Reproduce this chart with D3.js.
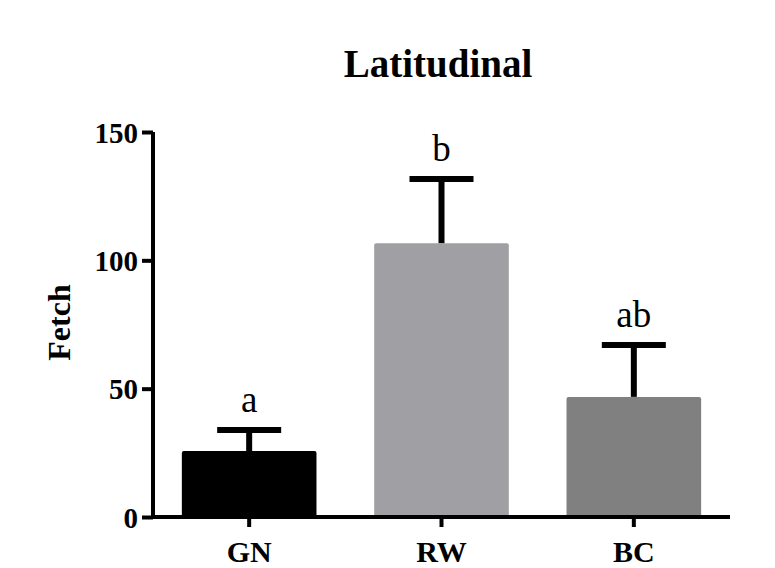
<!DOCTYPE html>
<html>
<head>
<meta charset="utf-8">
<script src="https://cdn.jsdelivr.net/npm/d3@7"></script>
<style>
  body { margin: 0; background: #fff; }
  text { font-family: "Palatino Linotype", "Book Antiqua", Palatino, "Liberation Serif", serif; fill: #000; }
</style>
</head>
<body>
<div id="chart"></div>
<script>
// data
let sites = ["GN", "RW", "BC"];
let means = [25.7, 106.7, 46.8];
let errors = [8.2, 25.0, 20.2];
let letters = ["a", "b", "ab"];
let barColors = ["#000000", "#a0a0a4", "#808080"];
let yTicks = [0, 50, 100, 150];

let w = 775, h = 568;
let m = {top: 132, right: 45, bottom: 51, left: 153};
let font = "\"Palatino Linotype\", \"Book Antiqua\", Palatino, \"Liberation Serif\", serif";

let svg = d3.select("#chart")
    .append("svg")
    .attr("width", w)
    .attr("height", h);

let x = d3.scaleBand()
    .domain(sites)
    .range([m.left, w - m.right])
    .paddingInner(0.3)
    .paddingOuter(0.15);

let y = d3.scaleLinear()
    .domain([0, 150])
    .range([h - m.bottom, m.top]);

// bars
svg.selectAll("rect.bar")
    .data(sites)
    .enter()
    .append("rect")
    .attr("class", "bar")
    .attr("x", (d) => x(d))
    .attr("y", (d, i) => y(means[i]))
    .attr("width", x.bandwidth())
    .attr("height", (d, i) => y(0) - y(means[i]))
    .attr("rx", 2)
    .style("fill", (d, i) => barColors[i]);

// error bars (upper only)
let capW = 64;
let eb = svg.selectAll("g.err")
    .data(sites)
    .enter()
    .append("g")
    .attr("class", "err");

eb.append("line")
    .attr("x1", (d) => x(d) + x.bandwidth() / 2)
    .attr("x2", (d) => x(d) + x.bandwidth() / 2)
    .attr("y1", (d, i) => y(means[i]))
    .attr("y2", (d, i) => y(means[i] + errors[i]))
    .style("stroke", "#000")
    .style("stroke-width", 6);

eb.append("line")
    .attr("x1", (d) => x(d) + x.bandwidth() / 2 - capW / 2)
    .attr("x2", (d) => x(d) + x.bandwidth() / 2 + capW / 2)
    .attr("y1", (d, i) => y(means[i] + errors[i]))
    .attr("y2", (d, i) => y(means[i] + errors[i]))
    .style("stroke", "#000")
    .style("stroke-width", 6);

// significance letters
svg.selectAll("text.letter")
    .data(letters)
    .enter()
    .append("text")
    .attr("class", "letter")
    .attr("x", (d, i) => x(sites[i]) + x.bandwidth() / 2)
    .attr("y", (d, i) => y(means[i] + errors[i]) - 18)
    .attr("text-anchor", "middle")
    .style("font-size", "37px")
    .text((d) => d);

// y axis
let yAxis = svg.append("g")
    .attr("transform", "translate(" + m.left + ",0)")
    .call(d3.axisLeft(y).tickValues(yTicks).tickSize(11).tickPadding(4));

// x axis
let xAxis = svg.append("g")
    .attr("transform", "translate(0," + y(0) + ")")
    .call(d3.axisBottom(x).tickSize(10).tickPadding(13));

[yAxis, xAxis].forEach((a) => {
    a.select(".domain").style("stroke", "#000").style("stroke-width", 4);
    a.selectAll(".tick line").style("stroke", "#000").style("stroke-width", 4);
    a.selectAll(".tick text")
        .style("font-weight", "bold")
        .style("font-family", font);
});
yAxis.select(".domain").attr("d", "M0," + y(0) + "V" + y(150));
yAxis.selectAll(".tick text").style("font-size", "29px").attr("dy", "0.35em");
xAxis.select(".domain").attr("d", "M" + m.left + ",0H" + (w - m.right));
xAxis.selectAll(".tick text").style("font-size", "30px").attr("y", 45).attr("dy", 0);

// y label
svg.append("text")
    .attr("transform", "translate(70," + ((y(0) + y(150)) / 2 - 2) + ") rotate(-90)")
    .attr("text-anchor", "middle")
    .style("font-size", "32px")
    .style("font-weight", "bold")
    .text("Fetch");

// title
svg.append("text")
    .attr("x", 438)
    .attr("y", 77)
    .attr("text-anchor", "middle")
    .style("font-size", "39px")
    .style("font-weight", "bold")
    .text("Latitudinal");
</script>
</body>
</html>
